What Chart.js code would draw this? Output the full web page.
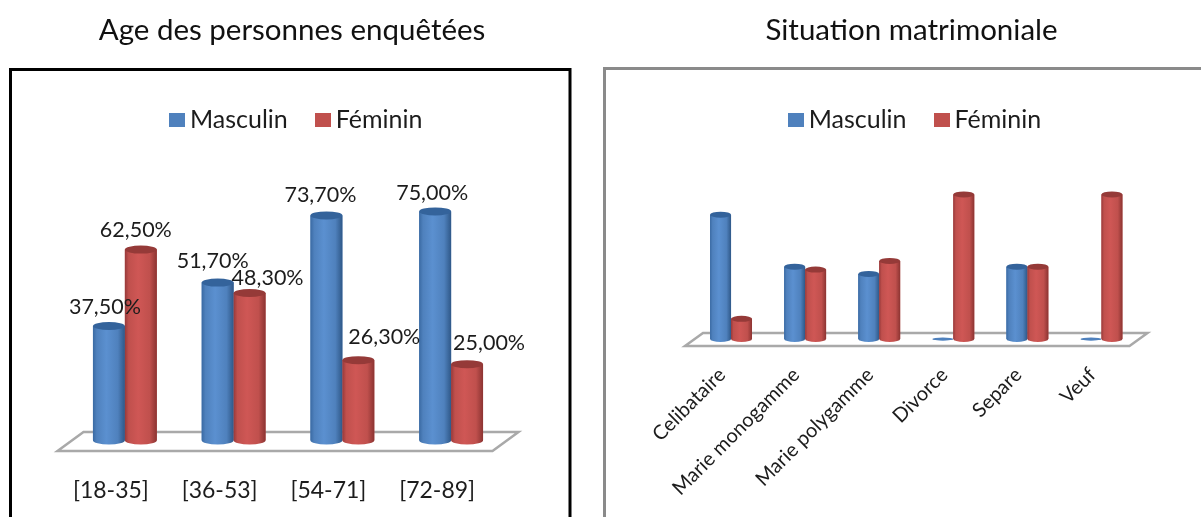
<!DOCTYPE html>
<html>
<head>
<meta charset="utf-8">
<style>
  html, body { margin: 0; background: #fff; width: 1201px; height: 517px; overflow: hidden; }
  canvas { position: absolute; top: 0; }
  #ageChart { left: 0; }
  #statusChart { left: 600px; }
</style>
<script src="https://cdn.jsdelivr.net/npm/chart.js@4"></script>
</head>
<body>
<canvas id="ageChart" width="584" height="517"></canvas>
<canvas id="statusChart" width="624" height="517"></canvas>
<script>
const seriesNames = ['Masculin', 'Féminin'];

const ageCategories = ['[18-35]', '[36-53]', '[54-71]', '[72-89]'];
const ageMale = [37.5, 51.7, 73.7, 75];
const ageFemale = [62.5, 48.3, 26.3, 25];

const statusCategories = ['Celibataire', 'Marie monogamme', 'Marie polygamme', 'Divorce', 'Separe', 'Veuf'];
const statusMale = [86, 50, 45, 0, 50, 0];
const statusFemale = [14, 48, 54, 100, 50, 100];

const FONT = 'Lato, Carlito, sans-serif';
const TEXT = '#1c1c1c';

const blue = { base: '#4f81bd', edgeL: '#3a6aa3', mid: '#5b90d0', edgeR: '#2f5888', top: '#34639b' };
const red = { base: '#c0504d', edgeL: '#97393a', mid: '#cf5755', edgeR: '#8c3432', top: '#953a38' };

// legend swatch as a small canvas, the default box sits too far from the text
function swatch(color) {
  const c = document.createElement('canvas');
  c.width = 16;
  c.height = 14;
  const g = c.getContext('2d');
  g.fillStyle = color;
  g.fillRect(0, 0, 16, 14);
  return c;
}
const swatches = [swatch(blue.base), swatch(red.base)];

// title and legend are centred on the plot by default, move them over
const headerPlugin = {
  id: 'header',
  afterLayout(chart, args, opts) {
    chart.titleBlock.left += opts.titleDx;
    chart.titleBlock.right += opts.titleDx;
    chart.legend.left += opts.legendDx;
    chart.legend.right += opts.legendDx;
  }
};

// panel frame, open at the bottom of the picture
const framePlugin = {
  id: 'frame',
  beforeDraw(chart, args, opts) {
    const ctx = chart.ctx;
    ctx.save();
    ctx.strokeStyle = opts.color;
    ctx.lineWidth = 3;
    ctx.beginPath();
    opts.path.forEach((p, i) => i ? ctx.lineTo(p[0], p[1]) : ctx.moveTo(p[0], p[1]));
    ctx.stroke();
    ctx.restore();
  }
};

// the flat 3D floor under the columns
const floorPlugin = {
  id: 'floor',
  beforeDatasetsDraw(chart, args, opts) {
    const { ctx, chartArea } = chart;
    const base = chartArea.bottom;
    ctx.save();
    ctx.strokeStyle = '#a9a9a9';
    ctx.lineWidth = 2.5;
    ctx.fillStyle = '#fff';
    ctx.beginPath();
    ctx.moveTo(chartArea.left - opts.skew, base + opts.front);
    ctx.lineTo(chartArea.right - opts.skew, base + opts.front);
    ctx.lineTo(chartArea.right + opts.skew, base - opts.back);
    ctx.lineTo(chartArea.left + opts.skew, base - opts.back);
    ctx.closePath();
    ctx.fill();
    ctx.stroke();
    ctx.restore();
  }
};

// repaint each bar element as a cylinder
const cylinderPlugin = {
  id: 'cylinder',
  afterDatasetsDraw(chart, args, opts) {
    const ctx = chart.ctx;
    chart.data.datasets.forEach((ds, d) => {
      const c = d === 0 ? blue : red;
      chart.getDatasetMeta(d).data.forEach(bar => {
        const half = bar.width / 2;
        const left = bar.x - half;
        const flat = bar.base - bar.y < 1;
        const ry = flat ? opts.ry / 2 : opts.ry;
        ctx.save();
        const g = ctx.createLinearGradient(left, 0, left + bar.width, 0);
        g.addColorStop(0, c.edgeL);
        g.addColorStop(0.12, c.base);
        g.addColorStop(0.42, c.mid);
        g.addColorStop(0.78, c.base);
        g.addColorStop(1, c.edgeR);
        ctx.fillStyle = g;
        ctx.beginPath();
        ctx.moveTo(left, bar.y);
        ctx.lineTo(left, bar.base);
        ctx.ellipse(bar.x, bar.base, half, ry, 0, Math.PI, 0, true);
        ctx.lineTo(left + bar.width, bar.y);
        ctx.closePath();
        ctx.fill();
        ctx.fillStyle = flat ? c.base : c.top;
        ctx.beginPath();
        ctx.ellipse(bar.x, bar.y, half, ry, 0, 0, Math.PI * 2);
        ctx.fill();
        ctx.restore();
      });
    });
  }
};

// value labels, nudged one by one like the source (they overlap there too)
const valueLabelPlugin = {
  id: 'valueLabels',
  afterDraw(chart, args, opts) {
    if (!opts.shiftX) return;
    const ctx = chart.ctx;
    ctx.save();
    ctx.font = '21.5px ' + FONT;
    ctx.fillStyle = TEXT;
    ctx.textAlign = 'center';
    ctx.textBaseline = 'middle';
    chart.data.datasets.forEach((ds, d) => {
      chart.getDatasetMeta(d).data.forEach((bar, i) => {
        const txt = ds.data[i].toFixed(2).replace('.', ',') + '%';
        ctx.fillText(txt, bar.x + opts.shiftX[d][i], bar.y - opts.rise[d][i]);
      });
    });
    ctx.restore();
  }
};

function makeChart(id, categories, male, female, cfg) {
  return new Chart(document.getElementById(id), {
    type: 'bar',
    data: {
      labels: categories,
      datasets: [
        { label: seriesNames[0], data: male, backgroundColor: blue.base, categoryPercentage: cfg.catPct, barPercentage: 1 },
        { label: seriesNames[1], data: female, backgroundColor: red.base, categoryPercentage: cfg.catPct, barPercentage: 1 }
      ]
    },
    plugins: [headerPlugin, framePlugin, floorPlugin, cylinderPlugin, valueLabelPlugin],
    options: {
      responsive: false,
      animation: false,
      layout: { padding: cfg.padding },
      scales: {
        x: {
          grid: { display: false },
          border: { display: false },
          afterFit(scale) { scale.height = cfg.axisHeight; },
          ticks: {
            color: TEXT,
            font: { family: FONT, size: cfg.tickSize },
            padding: cfg.tickPadding,
            labelOffset: cfg.labelOffset,
            minRotation: cfg.rotation,
            maxRotation: cfg.rotation,
            autoSkip: false
          }
        },
        y: { display: false, min: 0, max: cfg.yMax }
      },
      plugins: {
        title: {
          display: true,
          text: cfg.title,
          color: '#111',
          font: { family: FONT, size: 29.5, weight: 'normal' },
          padding: { top: 12.5, bottom: 25 }
        },
        legend: {
          position: 'top',
          labels: {
            color: TEXT,
            font: { family: FONT, size: 25 },
            usePointStyle: true,
            boxWidth: 1,
            boxHeight: 14,
            padding: 34.5,
            generateLabels(chart) {
              return Chart.defaults.plugins.legend.labels.generateLabels(chart)
                .map((item, i) => ({ ...item, pointStyle: swatches[i] }));
            }
          }
        },
        tooltip: { enabled: false },
        header: cfg.header,
        frame: cfg.frame,
        floor: cfg.floor,
        cylinder: { ry: cfg.ry },
        valueLabels: cfg.valueLabels || {}
      }
    }
  });
}

makeChart('ageChart', ageCategories, ageMale, ageFemale, {
  title: 'Age des personnes enquêtées',
  catPct: 0.587,
  padding: { left: 70.5, right: 78.5 },
  axisHeight: 76.5,
  tickSize: 23,
  tickPadding: 28,
  labelOffset: -14,
  rotation: 0,
  yMax: 97.6,
  ry: 4,
  header: { titleDx: 4, legendDx: 11.5 },
  frame: { color: '#000', path: [[10.5, 517], [10.5, 69.5], [570, 69.5], [570, 517]] },
  floor: { skew: 13, front: 10.5, back: 8.5 },
  valueLabels: {
    shiftX: [[-4, -5, -6, -3], [-5, 18, 26, 22]],
    rise: [[19, 22, 20, 18], [20, 15, 23, 21]]
  }
});

makeChart('statusChart', statusCategories, statusMale, statusFemale, {
  title: 'Situation matrimoniale',
  catPct: 0.566,
  padding: { left: 94, right: 85.5 },
  axisHeight: 178,
  tickSize: 20,
  tickPadding: 16,
  labelOffset: -9,
  rotation: 45,
  yMax: 136,
  ry: 3,
  header: { titleDx: -4.75, legendDx: 2 },
  frame: { color: '#8a8a8a', path: [[4.5, 517], [4.5, 68.5], [624, 68.5]] },
  floor: { skew: 9, front: 7, back: 6 }
});
</script>
</body>
</html>
